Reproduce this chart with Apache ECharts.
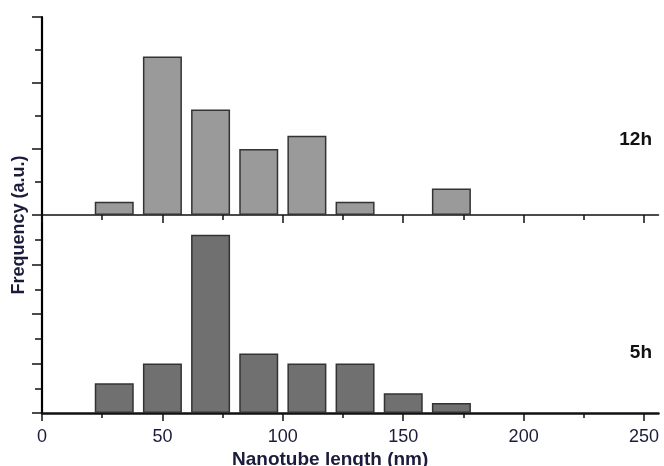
<!DOCTYPE html>
<html><head><meta charset="utf-8">
<script src="https://cdn.jsdelivr.net/npm/echarts@6/dist/echarts.min.js"></script>
<style>html,body{margin:0;padding:0;background:#fff}#c{width:664px;height:466px}</style>
</head><body><div id="c"></div>
<script>
const binCenters = [30, 50, 70, 90, 110, 130, 150, 170];
const counts12h = [1, 12, 8, 5, 6, 1, 0, 2];
const counts5h = [3, 5, 18, 6, 5, 5, 2, 1];
const xMajorTicks = [0, 50, 100, 150, 200, 250];
const xMinorTicks = [25, 75, 125, 175, 225];
const panelLabels = ['12h', '5h'];
const xTitle = 'Nanotube length (nm)';
const yTitle = 'Frequency (a.u.)';

const FONT = '"Liberation Sans", Arial, sans-serif';
const TXT = '#1b1b3b';
const X_MAX = 256;

function pairs(vals) { return binCenters.map((c, i) => [c, vals[i] === 0 ? null : vals[i]]); }

function xAxisPair(gridIndex, withLabels, lineWidth) {
  return [
    {
      type: 'value', gridIndex, min: 0, max: X_MAX, position: 'bottom',
      axisLine: { show: true, onZero: false, lineStyle: { color: '#111', width: lineWidth } },
      axisTick: { show: true, customValues: xMajorTicks, length: 8, lineStyle: { color: '#111', width: 1.5 } },
      axisLabel: withLabels ? { show: true, customValues: xMajorTicks, margin: 15, color: TXT, fontSize: 18, fontFamily: FONT } : { show: false },
      splitLine: { show: false }
    },
    {
      type: 'value', gridIndex, min: 0, max: X_MAX, position: 'bottom',
      axisLine: { show: false },
      axisTick: { show: true, customValues: xMinorTicks, length: 5, lineStyle: { color: '#111', width: 1.5 } },
      axisLabel: { show: false },
      splitLine: { show: false }
    }
  ];
}

function yAxis(gridIndex, max) {
  return {
    type: 'value', gridIndex, min: 0, max, interval: 5,
    axisLine: { show: true, onZero: false, lineStyle: { color: '#000', width: 2.2 } },
    axisTick: { show: true, length: 10, lineStyle: { color: '#111', width: 1.5 } },
    minorTick: { show: true, splitNumber: 2, length: 7, lineStyle: { color: '#111', width: 1.5 } },
    axisLabel: { show: false },
    splitLine: { show: false }
  };
}

const chart = echarts.init(document.getElementById('c'), null, { renderer: 'canvas' });
chart.setOption({
  animation: false,
  backgroundColor: '#fff',
  grid: [
    { left: 42, top: 17, width: 616.5, height: 198 },
    { left: 42, top: 215, width: 616.5, height: 198 }
  ],
  xAxis: [].concat(xAxisPair(0, false, 1.5), xAxisPair(1, true, 2.5)),
  yAxis: [yAxis(0, 15), yAxis(1, 20)],
  title: {
    text: xTitle, left: 227, top: 445,
    textStyle: { fontFamily: FONT, fontSize: 19, fontWeight: 'bold', color: TXT }
  },
  graphic: [
    { type: 'text', x: 19, y: 225, rotation: Math.PI / 2,
      style: { text: yTitle, align: 'center', verticalAlign: 'middle', fill: TXT, font: 'bold 18px ' + FONT } },
    { type: 'text', x: 652, y: 140,
      style: { text: panelLabels[0], align: 'right', verticalAlign: 'middle', fill: '#111', font: 'bold 19px ' + FONT } },
    { type: 'text', x: 652, y: 353,
      style: { text: panelLabels[1], align: 'right', verticalAlign: 'middle', fill: '#111', font: 'bold 19px ' + FONT } }
  ],
  series: [
    { type: 'bar', xAxisIndex: 0, yAxisIndex: 0, data: pairs(counts12h), barWidth: 39,
      itemStyle: { color: '#9a9a9a', borderColor: '#333', borderWidth: 1.5 } },
    { type: 'bar', xAxisIndex: 2, yAxisIndex: 1, data: pairs(counts5h), barWidth: 39,
      itemStyle: { color: '#707070', borderColor: '#333', borderWidth: 1.5 } }
  ]
});
</script>
</body></html>
